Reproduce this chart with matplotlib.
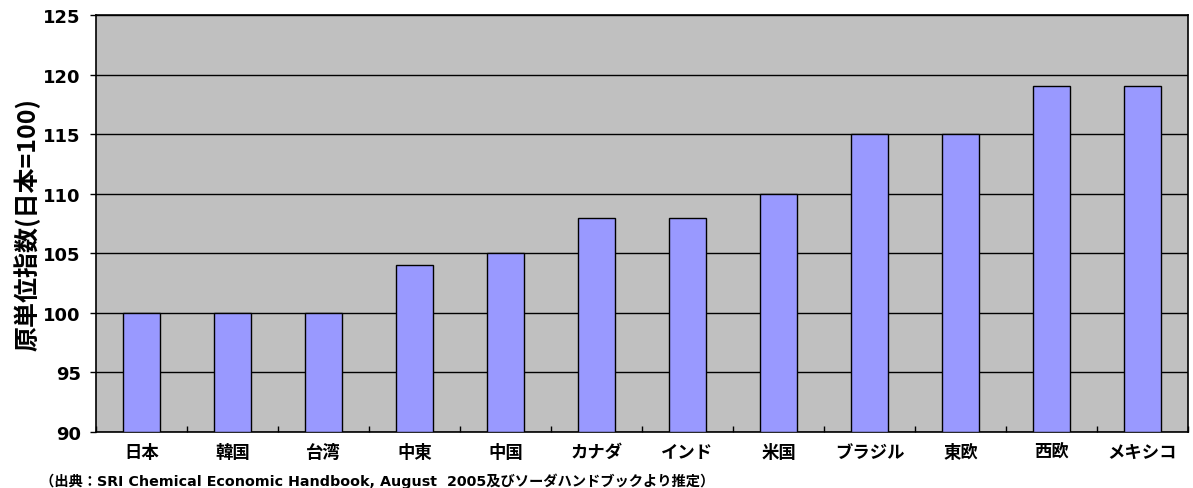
import numpy as np
import matplotlib.pyplot as plt

plt.rcParams['font.family'] = ['Noto Sans CJK JP', 'DejaVu Sans']

# data
regions = ['日本', '韓国', '台湾', '中東', '中国', 'カナダ', 'インド', '米国',
           'ブラジル', '東欧', '西欧', 'メキシコ']
index_values = [100, 100, 100, 104, 105, 108, 108, 110, 115, 115, 119, 119]
y_ticks = [90, 95, 100, 105, 110, 115, 120, 125]

fig = plt.figure(figsize=(11.93, 4.89), dpi=100)
ax = fig.add_axes([96 / 1193, 1 - 433 / 489, (1188 - 96) / 1193, (433 - 16) / 489])
ax.set_facecolor('#C0C0C0')

x = np.arange(len(regions))
ax.bar(x, np.array(index_values) - 90, bottom=90, width=0.41,
       color='#9999FF', edgecolor='black', linewidth=1, zorder=3)

ax.set_ylim(90, 125)
ax.set_xlim(-0.5, len(regions) - 0.5)
ax.set_yticks(y_ticks)
ax.set_yticklabels([str(t) for t in y_ticks], fontsize=13, fontweight='bold',
                   family=['DejaVu Sans'])
ax.yaxis.grid(True, color='black', linewidth=1, zorder=1)
ax.set_axisbelow(True)

# category labels, ticks between categories
ax.set_xticks(x)
ax.set_xticklabels(regions, fontsize=12.5, fontweight='bold')
ax.tick_params(axis='x', length=0, pad=8)
ax.set_xticks(np.arange(-0.5, len(regions)), minor=True)
ax.tick_params(axis='x', which='minor', direction='in', length=4, width=1)
ax.tick_params(axis='y', length=4, width=1, pad=7)

for s in ax.spines.values():
    s.set_linewidth(1.2)
    s.set_color('black')

ax.set_ylabel('原単位指数(日本=100)', fontsize=18, fontweight='bold', labelpad=2)

fig.text(40 / 1193, 1 - 481 / 489,
         '（出典：SRI Chemical Economic Handbook, August  2005及びソーダハンドブックより推定）',
         fontsize=10.3, fontweight='bold', va='center', ha='left',
         family=['DejaVu Sans', 'Noto Sans CJK JP'])

fig.savefig('out.png', dpi=100)
